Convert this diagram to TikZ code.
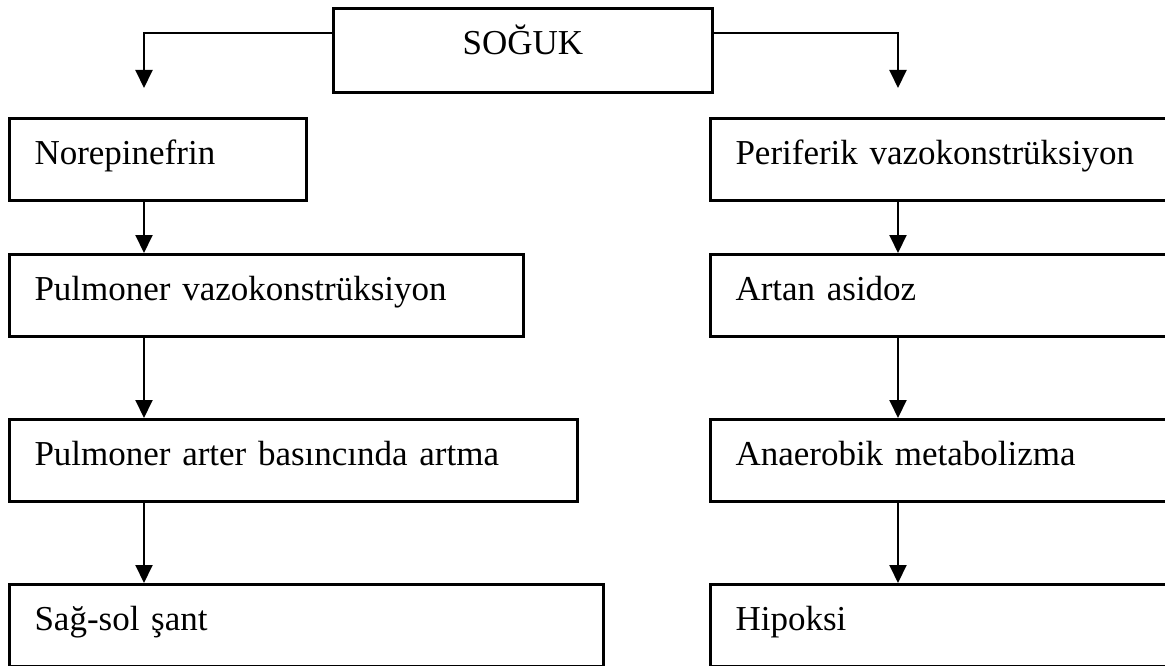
\documentclass[tikz,border=0pt]{standalone}
\usepackage{fontspec}
\setmainfont{Liberation Serif}
\usetikzlibrary{arrows.meta, positioning}

\begin{document}
\begin{tikzpicture}[
            x = 1pt, y = -1pt, % pixel units, y runs downwards
            > = {Triangle[length=18pt, width=17pt]}, % arrow head style
            semithick % line style
        ]

        \tikzstyle{every node}=[font=\fontsize{35}{42}\selectfont]
        \tikzstyle{kutu}=[
            draw = black,
            line width = 3pt,
            anchor = north west,
            inner xsep = 25pt,
            inner ysep = 22pt,
            text height = 24pt,
            text depth = 14pt,
            align = left
        ]
        \tikzstyle{ok}=[->, line width = 2pt]

        \clip (0,0) rectangle (1165,666);

        \node[kutu, text width=329pt, align=center, text depth=16pt] (soguk) at (332,7) {SOĞUK};

        % left column
        \node[kutu, text width=247pt] (nore) at (8,117) {Norepinefrin};
        \node[kutu, text width=464pt] (pvaz) at (8,253) {Pulmoner vazokonstrüksiyon};
        \node[kutu, text width=518pt] (part) at (8,418) {Pulmoner arter basıncında artma};
        \node[kutu, text width=544pt] (sant) at (8,583) {Sağ-sol şant};

        % right column
        \node[kutu, text width=431pt] (peri) at (709,117) {Periferik vazokonstrüksiyon};
        \node[kutu, text width=431pt] (asid) at (709,253) {Artan asidoz};
        \node[kutu, text width=431pt] (anae) at (709,418) {Anaerobik metabolizma};
        \node[kutu, text width=431pt] (hipo) at (709,583) {Hipoksi};

        \coordinate (lcol) at (144,0);
        \coordinate (rcol) at (898,0);
        \coordinate (lend) at (144,88);
        \coordinate (rend) at (898,88);

        \draw[ok] ([yshift=-26pt]soguk.north west) -| (lend);
        \draw[ok] ([yshift=-26pt]soguk.north east) -| (rend);

        \draw[ok] (nore.south -| lcol) -- (pvaz.north -| lcol);
        \draw[ok] (pvaz.south -| lcol) -- (part.north -| lcol);
        \draw[ok] (part.south -| lcol) -- (sant.north -| lcol);

        \draw[ok] (peri.south -| rcol) -- (asid.north -| rcol);
        \draw[ok] (asid.south -| rcol) -- (anae.north -| rcol);
        \draw[ok] (anae.south -| rcol) -- (hipo.north -| rcol);

  \end{tikzpicture}
\end{document}
